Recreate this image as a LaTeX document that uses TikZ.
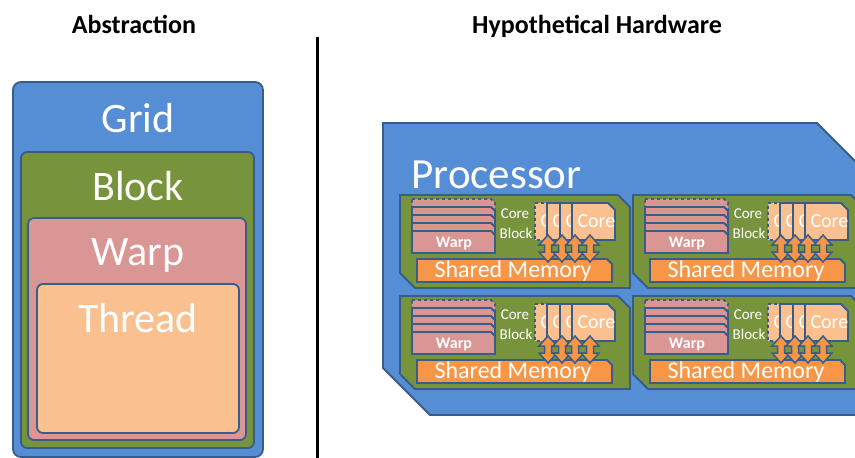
\documentclass[tikz,border=0pt]{standalone}
\usepackage{fontspec}
\setmainfont{Carlito}
\definecolor{gridblue}{RGB}{85,142,213}
\definecolor{edgeblue}{RGB}{56,93,138}
\definecolor{blockgreen}{RGB}{119,147,60}
\definecolor{warppink}{RGB}{217,150,148}
\definecolor{threadpeach}{RGB}{250,192,143}
\definecolor{memorange}{RGB}{247,150,70}
\tikzset{
  outline/.style={draw=edgeblue,line width=1.8pt,line join=miter},
  nestbox/.style={outline,rounded corners=6pt},
  bigtext/.style={text=white,font=\fontsize{42}{48}\selectfont,anchor=base},
  headtext/.style={font=\bfseries\fontsize{26}{30}\selectfont,anchor=base},
  smalltext/.style={text=white,font=\fontsize{15}{18}\selectfont,anchor=base},
  memtext/.style={text=white,font=\fontsize{24}{28}\selectfont,anchor=base},
  coretext/.style={text=white,font=\fontsize{20}{24}\selectfont,anchor=base west},
  warptext/.style={text=white,font=\bfseries\fontsize{16}{19}\selectfont,anchor=base}
}

\begin{document}
\begin{tikzpicture}[x=1pt,y=-1pt]

\clip (0,0) rectangle (855,458);

% titles and divider
\node (abs) at (134,33) [headtext] {Abstraction};
\node (hw) at (597,33) [headtext] {Hypothetical Hardware};
\coordinate (divtop) at (317,37);
\coordinate (divbot) at (317,460);
\draw [line width=3pt] (divtop) -- (divbot);

% abstraction side
\draw [nestbox,fill=gridblue,rounded corners=8pt] (13,82) rectangle (263,457);
\draw [nestbox,fill=blockgreen] (21,152) rectangle (254,448);
\draw [nestbox,fill=warppink] (28,218) rectangle (246,440);
\draw [nestbox,fill=threadpeach] (37,284) rectangle (239,433);
\node (grid) at (138,132) [bigtext] {Grid};
\node (block) at (138,200) [bigtext] {Block};
\node (warp) at (138,265) [bigtext] {Warp};
\node (thread) at (138,332) [bigtext] {Thread};

% hardware side
\draw [outline,fill=gridblue] (383,123) -- (817,123) -- (910,216) -- (910,415) -- (430,415) -- (383,368) -- cycle;
\node (proc) at (408,188) [bigtext,anchor=base west,font=\fontsize{43}{48}\selectfont] {Processor};

\foreach \sx/\sy/\n in {400/195/1, 633/195/2, 400/296/3, 633/296/4} {
  \begin{scope}[shift={(\sx,\sy)}]
    \draw [outline,fill=blockgreen] (0,0) -- (218,0) -- (230,12) -- (230,93) -- (15,93) -- (0,78) -- cycle;
    % warp stack
    \foreach \t in {4,12,20,28} {
      \ifnum\t=4
        \draw [outline,dashed,fill=warppink] (12,\t) -- (91,\t) -- (95,\t+4) -- (95,\t+22) -- (12,\t+22) -- cycle;
      \else
        \draw [outline,fill=warppink] (12,\t) -- (91,\t) -- (95,\t+4) -- (95,\t+22) -- (12,\t+22) -- cycle;
      \fi
    }
    \draw [outline,fill=warppink] (12,36) -- (91,36) -- (95,40) -- (95,58) -- (12,58) -- cycle;
    \node (w\n) at (54,52) [warptext] {Warp};
    \node (c\n) at (115,23) [smalltext] {Core};
    \node (b\n) at (116,43) [smalltext] {Block};
    % cores, only the front one shows its full label
    \foreach \l in {135,147,160} {
      \ifnum\l=135
        \draw [outline,dashed,fill=threadpeach] (\l,8) -- (\l+36,8) -- (\l+43,15) -- (\l+43,45) -- (\l,45) -- cycle;
      \else
        \draw [outline,fill=threadpeach] (\l,8) -- (\l+36,8) -- (\l+43,15) -- (\l+43,45) -- (\l,45) -- cycle;
      \fi
      \node at (\l+2,32) [coretext] {C};
    }
    \draw [outline,fill=threadpeach] (172,8) -- (208,8) -- (215,15) -- (215,45) -- (172,45) -- cycle;
    \node (core\n) at (174,32) [coretext] {Core};
    % shared memory
    \draw [outline,fill=memorange] (17,64) -- (207,64) -- (212,69) -- (212,87) -- (17,87) -- cycle;
    \node (m\n) at (113,82) [memtext] {Shared Memory};
    % load/store arrows
    \foreach \ax in {148,162,175,190} {
      \draw [outline,line width=1.5pt,fill=memorange] (\ax,40) -- (\ax+9,50) -- (\ax+3.5,50) -- (\ax+3.5,57) -- (\ax+9,57) -- (\ax,67)
        -- (\ax-9,57) -- (\ax-3.5,57) -- (\ax-3.5,50) -- (\ax-9,50) -- cycle;
    }
  \end{scope}
}

\end{tikzpicture}
\end{document}
